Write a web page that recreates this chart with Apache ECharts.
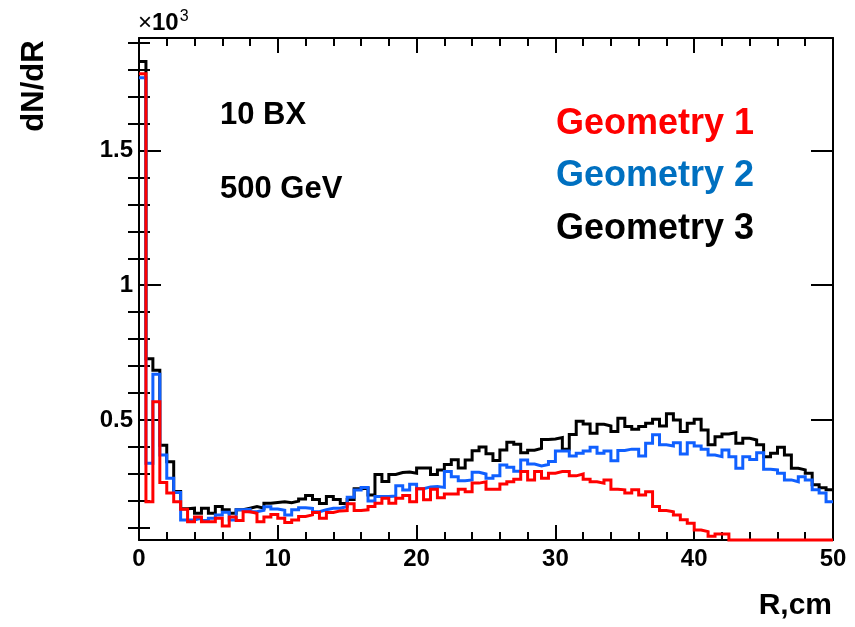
<!DOCTYPE html>
<html>
<head>
<meta charset="utf-8">
<title>dN/dR vs R</title>
<script src="https://cdn.jsdelivr.net/npm/echarts@6/dist/echarts.min.js"></script>
<style>
  html, body { margin: 0; padding: 0; background: #ffffff; }
  #chart { width: 855px; height: 627px; }
</style>
</head>
<body>
<div id="chart"></div>
<script>
// Histogram binning: 100 bins of 0.5 cm from R = 0 to 50 cm
const BIN_START = 0;
const BIN_WIDTH = 0.5;
const R_MAX = 50;

// Y range of the frame, in units of 10^3 entries
const Y_MIN = 0.055;
const Y_MAX = 1.917;

// Tick positions
const X_MAJOR_STEP = 10;
const Y_MAJOR = [0.5, 1, 1.5];
const Y_MINOR = [0.1, 0.2, 0.3, 0.4, 0.6, 0.7, 0.8, 0.9, 1.1, 1.2, 1.3, 1.4, 1.6, 1.7, 1.8, 1.9];

// dN/dR per bin (x 10^3)
const geometry1 = [
  1.784, 0.197, 0.568, 0.268, 0.229, 0.197, 0.169, 0.123, 0.140, 0.123,
  0.123, 0.136, 0.107, 0.140, 0.127, 0.160, 0.154, 0.123, 0.140, 0.150,
  0.136, 0.120, 0.129, 0.142, 0.148, 0.157, 0.136, 0.157, 0.163, 0.164,
  0.189, 0.164, 0.167, 0.179, 0.191, 0.210, 0.191, 0.210, 0.220, 0.197,
  0.245, 0.204, 0.243, 0.212, 0.226, 0.226, 0.243, 0.234, 0.266, 0.271,
  0.243, 0.243, 0.263, 0.271, 0.280, 0.309, 0.278, 0.309, 0.284, 0.303,
  0.309, 0.309, 0.293, 0.300, 0.280, 0.271, 0.266, 0.278, 0.243, 0.241,
  0.229, 0.241, 0.222, 0.234, 0.179, 0.164, 0.160, 0.148, 0.130, 0.117,
  0.092, 0.086, 0.069, 0.077, 0.077, 0, 0, 0, 0, 0,
  0, 0, 0, 0, 0, 0, 0, 0, 0, 0
];

const geometry2 = [
  1.770, 0.340, 0.670, 0.370, 0.284, 0.231, 0.129, 0.129, 0.136, 0.127,
  0.136, 0.148, 0.158, 0.129, 0.167, 0.169, 0.160, 0.165, 0.178, 0.170,
  0.165, 0.148, 0.167, 0.175, 0.172, 0.160, 0.167, 0.173, 0.173, 0.179,
  0.214, 0.240, 0.250, 0.200, 0.216, 0.216, 0.218, 0.256, 0.240, 0.262,
  0.245, 0.252, 0.253, 0.250, 0.309, 0.290, 0.275, 0.278, 0.306, 0.300,
  0.284, 0.293, 0.333, 0.325, 0.310, 0.352, 0.337, 0.330, 0.335, 0.346,
  0.385, 0.385, 0.367, 0.377, 0.385, 0.399, 0.377, 0.385, 0.349, 0.387,
  0.392, 0.392, 0.367, 0.414, 0.445, 0.408, 0.404, 0.416, 0.374, 0.416,
  0.404, 0.392, 0.370, 0.364, 0.389, 0.364, 0.321, 0.364, 0.354, 0.379,
  0.317, 0.315, 0.303, 0.278, 0.271, 0.290, 0.278, 0.241, 0.229, 0.197
];

const geometry3 = [
  1.830, 0.727, 0.685, 0.406, 0.345, 0.235, 0.171, 0.173, 0.154, 0.173,
  0.154, 0.179, 0.167, 0.154, 0.167, 0.173, 0.179, 0.173, 0.191, 0.194,
  0.197, 0.193, 0.199, 0.207, 0.220, 0.205, 0.190, 0.216, 0.205, 0.190,
  0.205, 0.245, 0.247, 0.222, 0.298, 0.272, 0.298, 0.305, 0.307, 0.303,
  0.322, 0.322, 0.298, 0.315, 0.335, 0.353, 0.322, 0.352, 0.386, 0.400,
  0.375, 0.350, 0.389, 0.418, 0.410, 0.379, 0.388, 0.395, 0.428, 0.430,
  0.435, 0.392, 0.446, 0.495, 0.485, 0.451, 0.484, 0.478, 0.457, 0.507,
  0.476, 0.466, 0.476, 0.488, 0.503, 0.478, 0.523, 0.500, 0.457, 0.488,
  0.503, 0.463, 0.408, 0.438, 0.448, 0.453, 0.414, 0.432, 0.426, 0.408,
  0.364, 0.377, 0.399, 0.370, 0.321, 0.315, 0.303, 0.260, 0.249, 0.241
];

const seriesDefs = [
  { name: 'Geometry 3', values: geometry3, color: '#000000' },
  { name: 'Geometry 2', values: geometry2, color: '#1060ff' },
  { name: 'Geometry 1', values: geometry1, color: '#ff0000' }
];

const labelColors = { 'Geometry 1': '#ff0000', 'Geometry 2': '#0070c0', 'Geometry 3': '#000000' };

// Step outline: each bin's low edge carries the bin content; the last bin is closed at R_MAX.
// Empty bins sit on the lower edge of the frame.
function histPoints(values) {
  const pts = values.map((v, i) => [BIN_START + i * BIN_WIDTH, Math.max(v, Y_MIN)]);
  pts.push([R_MAX, Math.max(values[values.length - 1], Y_MIN)]);
  return pts;
}

const FONT = '"Liberation Sans", Arial, Helvetica, sans-serif';
const frameLine = { show: true, onZero: false, lineStyle: { color: '#000', width: 2 } };

function xAxisDef(position, withLabels) {
  return {
    type: 'value', position: position, min: BIN_START, max: R_MAX, interval: X_MAJOR_STEP,
    axisLine: frameLine,
    axisTick: { show: true, inside: true, length: 15, lineStyle: { color: '#000', width: 2 } },
    minorTick: { show: true, splitNumber: 5, length: 8, lineStyle: { color: '#000', width: 2 } },
    axisLabel: { show: withLabels, margin: 7, color: '#000', fontSize: 24, fontWeight: 'bold', fontFamily: FONT },
    splitLine: { show: false }, minorSplitLine: { show: false }
  };
}

function yAxisDef(position, ticks, tickLen, withLabels, showLine) {
  return {
    type: 'value', position: position, min: Y_MIN, max: Y_MAX,
    axisLine: showLine ? frameLine : { show: false },
    axisTick: { show: true, inside: true, length: tickLen, customValues: ticks,
                lineStyle: { color: '#000', width: 2 } },
    axisLabel: { show: withLabels, customValues: ticks, margin: 6, color: '#000',
                 fontSize: 24, fontWeight: 'bold', fontFamily: FONT },
    splitLine: { show: false }
  };
}

const chart = echarts.init(document.getElementById('chart'), null, { renderer: 'canvas' });

chart.setOption({
  backgroundColor: '#ffffff',
  animation: false,
  grid: { left: 139, right: 22, top: 38, bottom: 87, containLabel: false },
  xAxis: [xAxisDef('bottom', true), xAxisDef('top', false)],
  yAxis: [
    yAxisDef('left', Y_MAJOR, 22, true, true),
    yAxisDef('left', Y_MINOR, 11, false, false),
    yAxisDef('right', Y_MAJOR, 22, false, true),
    yAxisDef('right', Y_MINOR, 11, false, false)
  ],
  series: seriesDefs.map(s => ({
    name: s.name,
    type: 'line',
    step: 'end',
    xAxisIndex: 0,
    yAxisIndex: 0,
    data: histPoints(s.values),
    showSymbol: false,
    symbol: 'none',
    clip: false,
    lineStyle: { color: s.color, width: 3, join: 'miter' },
    itemStyle: { color: s.color },
    z: 3
  })),
  graphic: [
    { type: 'text', x: 138, y: 23,
      style: { text: '{m|×}{b|10}{s|3}', textVerticalAlign: 'middle',
        rich: {
          m: { fontSize: 24, fontFamily: FONT, fill: '#000' },
          b: { fontSize: 24, fontWeight: 'bold', fontFamily: FONT, fill: '#000' },
          s: { fontSize: 16, fontFamily: FONT, fill: '#000', verticalAlign: 'top', padding: [0, 0, 12, 1] }
        } } },
    { type: 'text', x: 34, y: 86, rotation: Math.PI / 2,
      style: { text: 'dN/dR', fontSize: 31, fontWeight: 'bold', fontFamily: FONT, fill: '#000',
               textAlign: 'center', textVerticalAlign: 'middle' } },
    { type: 'text', x: 832, y: 606,
      style: { text: 'R,cm', fontSize: 30, fontWeight: 'bold', fontFamily: FONT, fill: '#000',
               textAlign: 'right', textVerticalAlign: 'middle' } },
    { type: 'text', x: 220, y: 115,
      style: { text: '10 BX', fontSize: 31, fontWeight: 'bold', fontFamily: FONT, fill: '#000',
               textVerticalAlign: 'middle' } },
    { type: 'text', x: 220, y: 189,
      style: { text: '500 GeV', fontSize: 31, fontWeight: 'bold', fontFamily: FONT, fill: '#000',
               textVerticalAlign: 'middle' } },
    { type: 'text', x: 556, y: 124,
      style: { text: 'Geometry 1', fontSize: 36, fontWeight: 'bold', fontFamily: FONT,
               fill: labelColors['Geometry 1'], textVerticalAlign: 'middle' } },
    { type: 'text', x: 556, y: 176,
      style: { text: 'Geometry 2', fontSize: 36, fontWeight: 'bold', fontFamily: FONT,
               fill: labelColors['Geometry 2'], textVerticalAlign: 'middle' } },
    { type: 'text', x: 556, y: 229,
      style: { text: 'Geometry 3', fontSize: 36, fontWeight: 'bold', fontFamily: FONT,
               fill: labelColors['Geometry 3'], textVerticalAlign: 'middle' } }
  ]
});
</script>
</body>
</html>
